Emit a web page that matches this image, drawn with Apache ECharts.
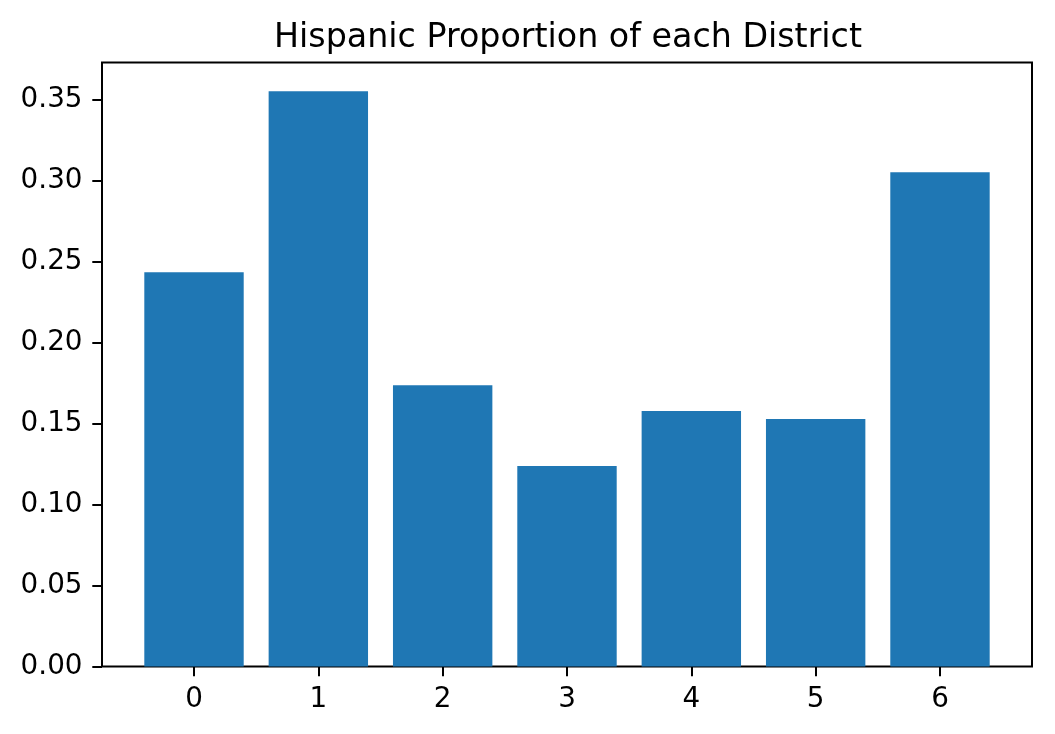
<!DOCTYPE html>
<html>
<head>
<meta charset="utf-8">
<script src="https://cdn.jsdelivr.net/npm/echarts@6/dist/echarts.min.js"></script>
<style>
  html, body { margin: 0; padding: 0; background: #fff; }
  #chart { width: 1055px; height: 734px; }
</style>
</head>
<body>
<div id="chart"></div>
<script>
// data
const districts = [0, 1, 2, 3, 4, 5, 6]
const hispanicShare = [0.2437, 0.3555, 0.1739, 0.1239, 0.1579, 0.1529, 0.3055]
const yTicks = [0, 0.05, 0.1, 0.15, 0.2, 0.25, 0.3, 0.35]

const font = 'DejaVu Sans'
const chart = echarts.init(document.getElementById('chart'))

chart.setOption({
  backgroundColor: '#fff',
  animation: false,
  title: {
    text: 'Hispanic Proportion of each District',
    left: 563,
    top: 17,
    textAlign: 'center',
    textStyle: { fontFamily: font, fontSize: 33.3, fontWeight: 'normal', color: '#000' }
  },
  // full box, like matplotlib spines
  grid: {
    left: 102, right: 23, top: 62.5, bottom: 67.5,
    show: true, borderColor: '#000', borderWidth: 2, backgroundColor: 'transparent'
  },
  xAxis: {
    type: 'value',
    min: -0.74,
    max: 6.74,
    splitLine: { show: false },
    axisLine: { show: false, onZero: false },
    axisTick: { show: true, length: 9.7, lineStyle: { color: '#000', width: 2 }, customValues: districts },
    axisLabel: {
      margin: 19.5, color: '#000', fontFamily: font, fontSize: 27.8,
      customValues: districts
    }
  },
  yAxis: {
    type: 'value',
    min: 0,
    max: 0.3733,
    splitLine: { show: false },
    axisLine: { show: false, onZero: false },
    axisTick: { show: true, length: 9.7, lineStyle: { color: '#000', width: 2 }, customValues: yTicks },
    axisLabel: {
      margin: 19.5, color: '#000', fontFamily: font, fontSize: 27.8,
      customValues: yTicks,
      formatter: v => v.toFixed(2)
    }
  },
  series: [{
    type: 'bar',
    barWidth: 99.4,
    itemStyle: { color: '#1f77b4' },
    data: districts.map((d, i) => [d, hispanicShare[i]])
  }]
})
</script>
</body>
</html>
